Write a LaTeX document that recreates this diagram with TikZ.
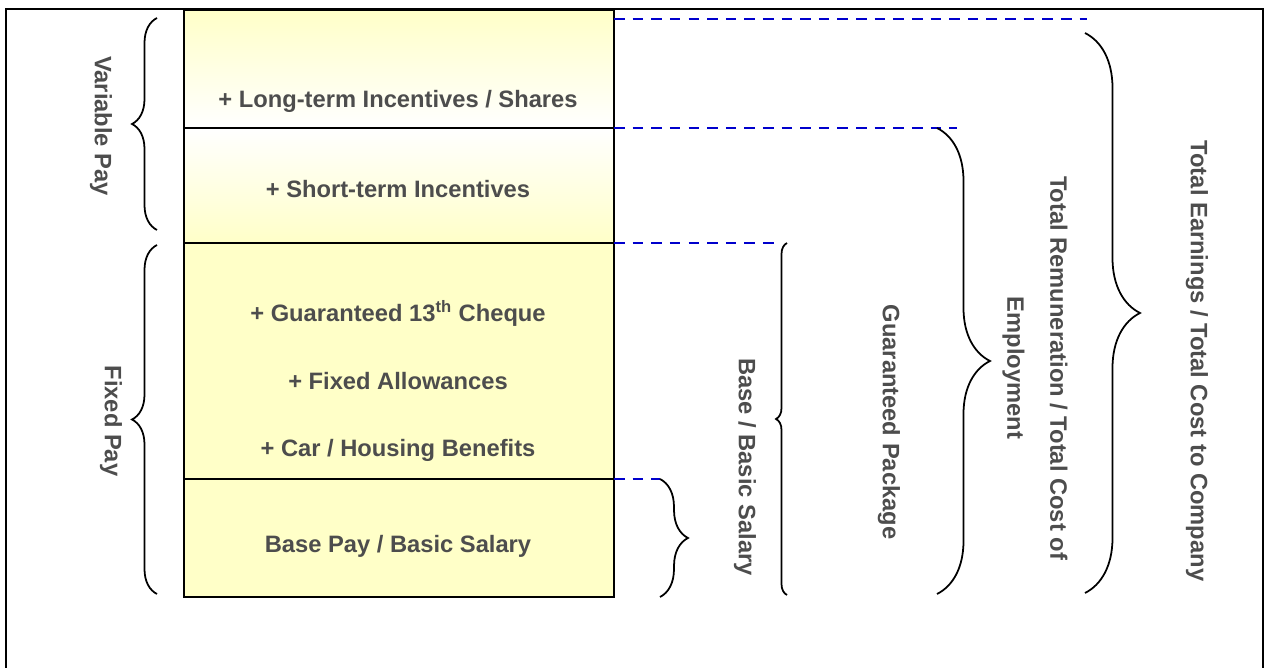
\documentclass[tikz,border=0pt]{standalone}
\usepackage{fontspec}
\setmainfont{Liberation Sans}
\usetikzlibrary{calc}
\usetikzlibrary{decorations.pathreplacing}

\definecolor{paleyellow}{RGB}{255,255,200}
\definecolor{labelgray}{RGB}{77,77,77}
\definecolor{dashblue}{RGB}{0,0,204}

\tikzset{
  lbl/.style={text=labelgray, font=\fontsize{13.5}{16}\selectfont\bfseries, inner sep=0},
  vlbl/.style={lbl, rotate=-90, align=center},
  brc/.style={decorate, decoration={brace, amplitude=#1*0.02cm}, line width=1pt},
  guide/.style={dashblue, line width=1.4pt, dash pattern=on 6pt off 4.6pt},
}

\begin{document}
\begin{tikzpicture}[x=0.02cm, y=-0.02cm]
\useasboundingbox (0,0) rectangle (1268,668);
\clip (0,0) rectangle (1268,668);
\draw[line width=0.9pt] (6,9) rectangle (1263,700);

% pay blocks, top to bottom
\shade[top color=paleyellow, bottom color=white] (184,10) rectangle (614,128);
\shade[top color=white, bottom color=paleyellow] (184,128) rectangle (614,243);
\shade[top color=paleyellow, middle color=white, bottom color=paleyellow] (184,243) rectangle (614,479);
\shade[top color=paleyellow, middle color=white, bottom color=paleyellow] (184,479) rectangle (614,597);
\draw[line width=1.2pt] (184,10) rectangle (614,597);
\foreach \y [count=\i] in {128,243,479} {
 \draw[line width=1.2pt] (184,\y) -- (614,\y) coordinate (edge\i);
}

\node[lbl, anchor=base] (lti) at (398,108) {+ Long-term Incentives / Shares};
\node[lbl, anchor=base] (sti) at (398,198) {+ Short-term Incentives};
\node[lbl, anchor=base] (cheque) at (398,322) {+ Guaranteed 13\textsuperscript{th} Cheque};
\node[lbl, anchor=base] (allow) at (398,390) {+ Fixed Allowances};
\node[lbl, anchor=base] (car) at (398,457) {+ Car / Housing Benefits};
\node[lbl, anchor=base] (basepay) at (398,553) {Base Pay / Basic Salary};

% dashed guides out of the blocks
\coordinate (topedge) at (614,19);
\coordinate (earnend) at (1087,19);
\coordinate (remend) at (957,128);
\coordinate (basicend) at (778,243);
\coordinate (payend) at (660,479);
\draw[guide] (topedge) -- (earnend);
\draw[guide] (edge1) -- (remend);
\draw[guide] (edge2) -- (basicend);
\draw[guide] (edge3) -- (payend);

% braces
\draw[brc=25] (157,230) -- (157,18);
\draw[brc=25] (157,594) -- (157,245);
\draw[brc=28] (payend) -- (660,597);
\draw[brc=11] (787,595) -- (787,243);
\draw[brc=53] (937,128) -- (937,594);
\draw[brc=55] (1085,33) -- (1085,593);

\node[vlbl] (varpay) at (101,126) {Variable Pay};
\node[vlbl] (fixpay) at (111,421) {Fixed Pay};
\node[vlbl] (basic) at (745,467) {Base / Basic Salary};
\node[vlbl] (guar) at (889,422) {Guaranteed Package};
\node[vlbl, font=\fontsize{13.5}{24.4}\selectfont\bfseries] (totrem) at (1035,368) {Total Remuneration / Total Cost of\\Employment};
\node[vlbl] (totearn) at (1197,361) {Total Earnings / Total Cost to Company};
\end{tikzpicture}
\end{document}
